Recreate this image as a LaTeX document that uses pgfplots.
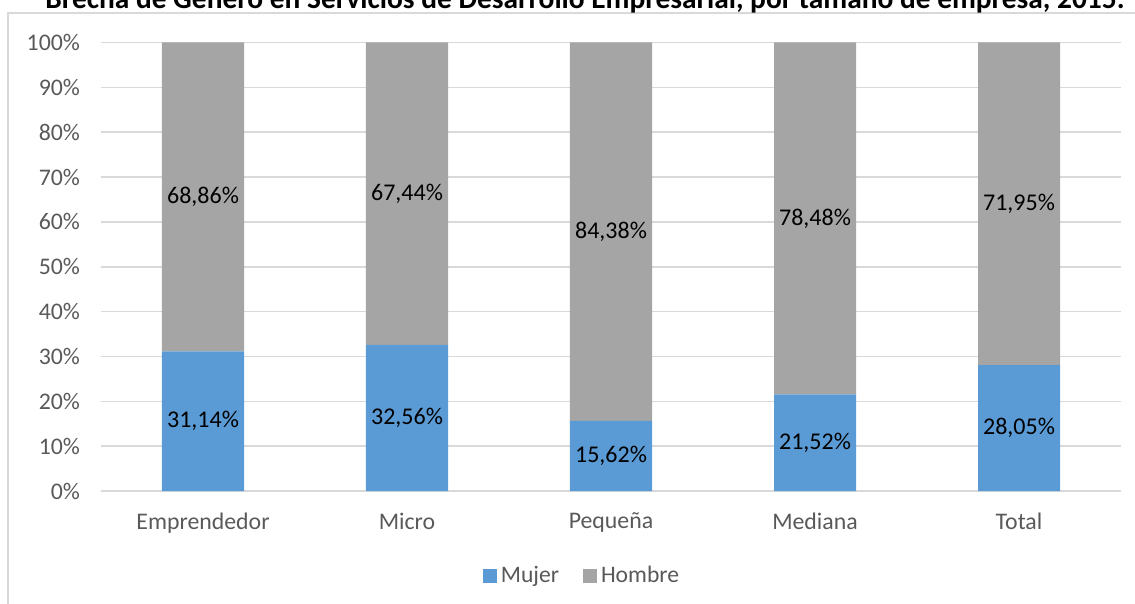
\documentclass[border=0pt]{standalone}
\usepackage{pgfplots}
\pgfplotsset{compat=1.18}
\usepackage{pgfplotstable}
\usepackage{fontspec}
\setmainfont{Carlito}

\definecolor{mujer}{HTML}{5B9BD5}
\definecolor{hombre}{HTML}{A5A5A5}
\definecolor{gridc}{HTML}{D9D9D9}
\definecolor{txt}{HTML}{595959}

% porcentaje por tamaño de empresa
\pgfplotstableread{
x y
0 31.14
1 32.56
2 15.62
3 21.52
4 28.05
}\mujer
\pgfplotstableread{
x y
0 68.86
1 67.44
2 84.38
3 78.48
4 71.95
}\hombre

\begin{document}
\begin{tikzpicture}
\draw[gridc, line width=0.75pt] (4pt,-330pt) -- (4pt,-6.5pt) -- (620pt,-6.5pt);
\node[anchor=base, font=\bfseries\fontsize{14.7}{17}\selectfont] at (292.5pt,-4.3pt)
  {Brecha de Género en Servicios de Desarrollo Empresarial, por tamaño de empresa, 2015.};
\begin{axis}[
    at={(50.5pt,-245.5pt)}, anchor=south west,
    scale only axis,
    width=510pt, height=224.25pt,
    ybar stacked,
    bar width=41pt,
    xmin=-0.5, xmax=4.5,
    ymin=0, ymax=100,
    xtick={0,1,2,3,4},
    xticklabels={Emprendedor,Micro,Pequeña,Mediana,Total},
    ytick={0,10,...,100},
    yticklabels={0\%,10\%,20\%,30\%,40\%,50\%,60\%,70\%,80\%,90\%,100\%},
    axis line style={draw=none},
    major tick length=0pt,
    ymajorgrids,
    grid style={gridc, line width=0.75pt},
    tick label style={font=\fontsize{11.9}{13}\selectfont, text=txt},
    xticklabel style={yshift=-7.5pt},
    yticklabel style={xshift=-7pt},
    /pgf/number format/assume math mode=true,
    point meta=explicit,
    nodes near coords={\pgfmathprintnumber[fixed,fixed zerofill,precision=2,use comma]{\pgfplotspointmeta}\%},
    nodes near coords style={font=\fontsize{12}{14}\selectfont, text=black, anchor=center},
    legend columns=2,
    legend style={at={(rel axis cs:0.4725,-0.1895)}, anchor=center, draw=none,
      font=\fontsize{11.8}{14}\selectfont, text=txt,
      /tikz/every even column/.append style={column sep=10pt}},
    legend image code/.code={\fill[#1] (0pt,-3.5pt) rectangle (7pt,3.5pt);},
]
\addplot[fill=mujer, draw=none] table[x=x, y=y, meta=y] \mujer;
\addplot[fill=hombre, draw=none] table[x=x, y=y, meta=y] \hombre;
\legend{Mujer, Hombre}
\end{axis}
\pgfresetboundingbox
\useasboundingbox (0,0) rectangle (567.5pt,-302pt);
\end{tikzpicture}
\end{document}
